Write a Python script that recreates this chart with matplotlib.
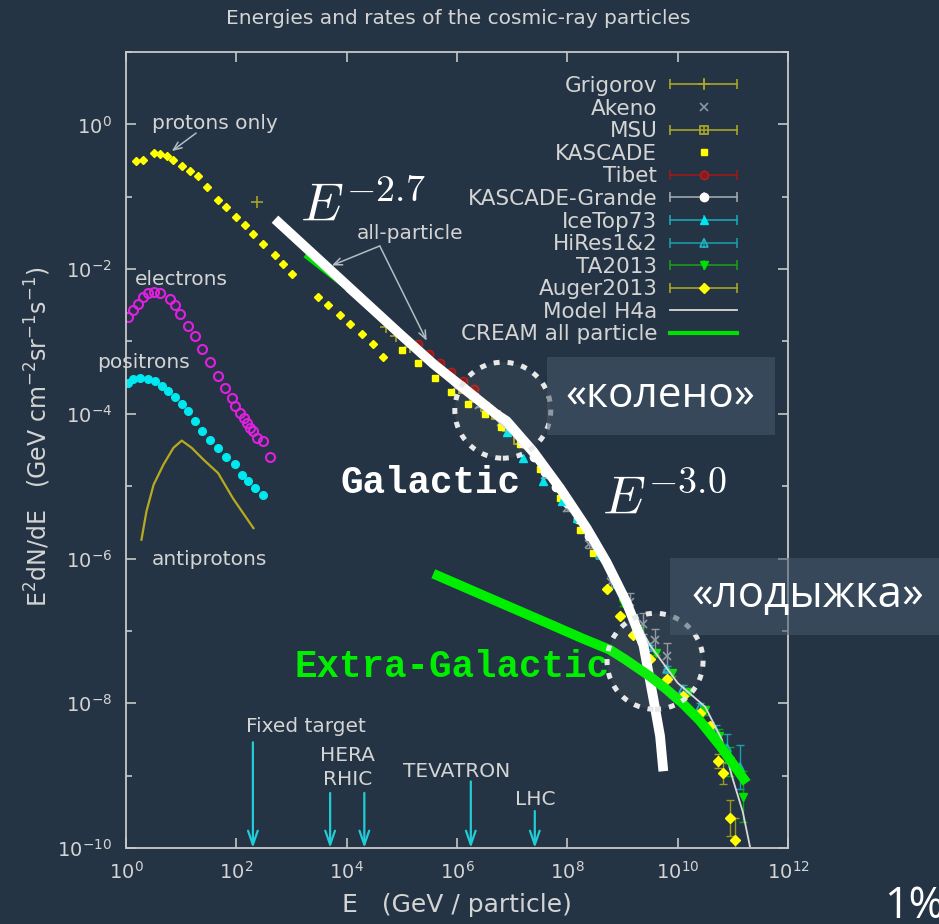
import matplotlib
matplotlib.use('Agg')
import matplotlib.pyplot as plt
import numpy as np
from matplotlib import patches, transforms
from matplotlib.legend_handler import HandlerBase
from matplotlib.lines import Line2D
from matplotlib.ticker import FixedLocator, NullLocator, FuncFormatter

BG = '#243444'
FG = '#d4d4d4'
OLIVE = '#a8a428'

# values: log10(E / GeV) and log10(E^2 dN/dE)
proton_logE = [0.19, 0.31, 0.50, 0.62, 0.74, 0.86, 1.01, 1.16, 1.31, 1.46, 1.67, 1.82, 2.00,
               2.16, 2.31, 2.49, 2.70, 2.85, 3.00, 3.48, 3.66, 3.88, 4.06, 4.27, 4.48, 4.66]
proton_logF = [-0.51, -0.49, -0.40, -0.41, -0.44, -0.49, -0.58, -0.65, -0.72, -0.86, -1.05, -1.14, -1.28,
               -1.39, -1.51, -1.65, -1.81, -1.93, -2.07, -2.39, -2.50, -2.64, -2.76, -2.90, -3.04, -3.22]

electron_logE = [0.04, 0.13, 0.22, 0.31, 0.40, 0.50, 0.62, 0.80, 0.89, 0.98, 1.13, 1.25, 1.37,
                 1.52, 1.67, 1.79, 1.92, 1.98, 2.07, 2.13, 2.19, 2.25, 2.31, 2.37, 2.49, 2.61]
electron_logF = [-2.66, -2.57, -2.48, -2.39, -2.33, -2.32, -2.33, -2.41, -2.50, -2.62, -2.78, -2.92, -3.11,
                 -3.29, -3.48, -3.64, -3.78, -3.89, -3.99, -4.06, -4.13, -4.19, -4.24, -4.33, -4.38, -4.59]

positron_logE = [0.04, 0.13, 0.25, 0.40, 0.52, 0.65, 0.77, 0.89, 1.01, 1.13, 1.25, 1.37, 1.52,
                 1.67, 1.82, 1.98, 2.10, 2.22, 2.34, 2.49]
positron_logF = [-3.58, -3.52, -3.50, -3.52, -3.55, -3.62, -3.69, -3.77, -3.87, -3.96, -4.10, -4.24, -4.36,
                 -4.47, -4.59, -4.70, -4.84, -4.93, -5.03, -5.12]

antiproton_logE = [0.28, 0.37, 0.50, 0.68, 0.86, 1.01, 1.19, 1.40, 1.67, 1.94, 2.31]
antiproton_logF = [-5.74, -5.35, -4.98, -4.70, -4.47, -4.37, -4.47, -4.63, -4.82, -5.17, -5.58]

grigorov_logE = [2.37, 4.72, 4.90, 5.15]
grigorov_logF = [-1.07, -2.80, -2.93, -3.08]

akeno_logE = [6.0, 6.4, 6.8, 7.2, 7.6, 8.0, 8.4, 8.8, 9.13, 9.37, 9.58, 9.8]
akeno_logF = [-3.62, -3.88, -4.12, -4.42, -4.85, -5.30, -5.80, -6.32, -6.60, -6.90, -7.12, -7.35]
akeno_err = [0.03, 0.03, 0.03, 0.03, 0.04, 0.05, 0.06, 0.08, 0.12, 0.15, 0.15, 0.18]

msu_logE = [6.1, 6.3, 6.5, 6.7, 6.9, 7.1]
msu_logF = [-3.66, -3.78, -3.90, -4.02, -4.18, -4.36]

kascade_logE = [5.0, 5.3, 5.6, 5.9, 6.2, 6.5, 6.8, 7.14, 7.50, 7.87, 8.23, 8.47]
kascade_logF = [-3.12, -3.30, -3.50, -3.70, -3.86, -4.00, -4.18, -4.42, -4.76, -5.16, -5.60, -5.92]

tibet_logE = [5.3, 5.5, 5.7, 5.9, 6.1, 6.3]
tibet_logF = [-3.04, -3.17, -3.30, -3.42, -3.54, -3.66]

grande_logE = [7.2, 7.4, 7.6, 7.8, 8.0, 8.2, 8.4]
grande_logF = [-4.41, -4.59, -4.80, -5.01, -5.23, -5.46, -5.69]

icetop_logE = [6.9, 7.2, 7.56, 7.9, 8.17, 8.53]
icetop_logF = [-4.25, -4.61, -4.93, -5.20, -5.44, -5.77]

hires_logE = [8.6, 8.9, 9.2, 9.5, 9.8, 10.1, 10.4, 10.7, 10.9, 11.13]
hires_logF = [-5.95, -6.35, -6.80, -7.22, -7.52, -7.80, -8.05, -8.40, -8.62, -8.88]
hires_err = [0.03, 0.03, 0.03, 0.03, 0.04, 0.05, 0.06, 0.10, 0.20, 0.30]

ta_logE = [9.0, 9.3, 9.6, 9.9, 10.2, 10.5, 10.75, 10.95, 11.18]
ta_logF = [-6.62, -7.00, -7.30, -7.58, -7.84, -8.10, -8.45, -8.80, -9.29]
ta_err = [0.03, 0.03, 0.03, 0.04, 0.05, 0.06, 0.10, 0.20, 0.35]

auger_logE = [8.71, 8.95, 9.19, 9.50, 9.80, 10.10, 10.40, 10.59, 10.74, 10.83, 10.95, 11.04]
auger_logF = [-6.42, -6.79, -7.06, -7.39, -7.67, -7.90, -8.13, -8.31, -8.80, -8.96, -9.59, -9.89]
auger_err = [0.02, 0.02, 0.02, 0.02, 0.03, 0.03, 0.04, 0.05, 0.10, 0.15, 0.25, 0.30]

h4a_logE = [4.0, 5.0, 6.0, 6.6, 7.0, 7.5, 8.0, 8.5, 9.0, 9.5, 10.0, 10.5, 10.8, 11.0, 11.18, 11.31]
h4a_logF = [-2.30, -2.98, -3.65, -4.00, -4.28, -4.72, -5.25, -5.85, -6.50, -7.20, -7.72, -8.05, -8.50, -9.05, -9.50, -9.98]

cream_logE = [3.27, 4.06]
cream_logF = [-1.83, -2.30]

galactic_logE = [2.70, 4.97, 5.57, 6.18, 6.72, 6.90, 7.38, 7.87, 8.35, 8.71, 9.07, 9.38, 9.56, 9.68, 9.74]
galactic_logF = [-1.31, -2.90, -3.31, -3.68, -4.01, -4.10, -4.52, -5.03, -5.58, -6.05, -6.60, -7.20, -7.94, -8.45, -8.94]

extragal_logE = [5.57, 6.78, 7.69, 8.29, 8.77, 9.06, 9.50, 9.80, 10.10, 10.40, 10.77, 11.25]
extragal_logF = [-6.21, -6.61, -6.91, -7.11, -7.26, -7.40, -7.63, -7.81, -8.01, -8.24, -8.59, -9.10]

acc_names = ['Fixed target', 'HERA', 'RHIC', 'TEVATRON', 'LHC']
acc_logE = [2.30, 3.70, 4.32, 6.25, 7.41]
acc_top = [-8.54, -9.24, -9.24, -9.08, -9.49]


def lg(v):
    return 10.0 ** np.asarray(v, dtype=float)


class BarHandler(HandlerBase):
    # gnuplot-like legend key: |---o---|
    def __init__(self, bar_color):
        super().__init__()
        self.bar_color = bar_color

    def create_artists(self, legend, orig, xdescent, ydescent, width, height, fontsize, trans):
        y = (height - ydescent) / 2
        x0, x1 = -xdescent, -xdescent + width
        xm = (x0 + x1) / 2
        bar = Line2D([x0, x1], [y, y], color=self.bar_color, lw=1.2)
        ticks = Line2D([x0, xm, x1], [y, y, y], ls='none', marker='|', ms=7, mew=1.2,
                       color=self.bar_color)
        mark = Line2D([xm], [y], ls='none', marker=orig.get_marker(), ms=orig.get_markersize(),
                      mfc=orig.get_markerfacecolor(), mec=orig.get_markeredgecolor(),
                      mew=orig.get_markeredgewidth())
        for a in (bar, ticks, mark):
            a.set_transform(trans)
        return [bar, ticks, mark]


plt.rcParams['font.family'] = ['DejaVu Sans']
plt.rcParams['mathtext.fontset'] = 'dejavusans'

fig = plt.figure(figsize=(9.39, 9.24), dpi=100, facecolor=BG)
ax = fig.add_axes([0.1342, 0.0823, 0.705, 0.8614])
ax.set_facecolor(BG)
ax.set_xscale('log')
ax.set_yscale('log')
ax.set_xlim(1, 1e12)
ax.set_ylim(1e-10, 10)

for s in ax.spines.values():
    s.set_color('#c8c8c8')
    s.set_linewidth(1.3)

ax.xaxis.set_major_locator(FixedLocator(lg(np.arange(0, 13, 2))))
ax.xaxis.set_minor_locator(NullLocator())
ax.yaxis.set_major_locator(FixedLocator(lg(np.arange(-10, 1, 2))))
ax.yaxis.set_minor_locator(FixedLocator(lg(np.arange(-9, 2, 2))))
fmt = FuncFormatter(lambda v, p: r'$10^{%d}$' % round(np.log10(v)))
ax.xaxis.set_major_formatter(fmt)
ax.yaxis.set_major_formatter(fmt)
ax.yaxis.set_minor_formatter(FuncFormatter(lambda v, p: ''))
ax.tick_params(which='both', direction='in', top=True, right=True, colors='#c8c8c8',
               labelcolor=FG, labelsize=14, width=1.2)
ax.tick_params(which='major', length=7)
ax.tick_params(which='minor', length=4)
ax.tick_params(axis='y', pad=10)
ax.tick_params(axis='x', pad=9)

# low-energy species
ax.plot(lg(proton_logE), lg(proton_logF), ls='none', marker='D', ms=4.5, color='#ffff00')
ax.plot(lg(electron_logE), lg(electron_logF), ls='none', marker='o', ms=6.5, mfc='none',
        mec='#e020e0', mew=1.5)
ax.plot(lg(positron_logE), lg(positron_logF), ls='none', marker='o', ms=5.5, color='#00e8f0')
ax.plot(lg(antiproton_logE), lg(antiproton_logF), color='#b8aa20', lw=1.6)

# all-particle measurements
h_grig, = ax.plot(lg(grigorov_logE), lg(grigorov_logF), ls='none', marker='+', ms=8, mew=1.2,
                  color=OLIVE, label='Grigorov')
ax.errorbar(lg(akeno_logE), lg(akeno_logF),
            yerr=[lg(akeno_logF) - lg(np.subtract(akeno_logF, akeno_err)),
                  lg(np.add(akeno_logF, akeno_err)) - lg(akeno_logF)],
            fmt='none', ecolor='#8d969e', elinewidth=1, capsize=3)
h_akeno, = ax.plot(lg(akeno_logE), lg(akeno_logF), ls='none', marker='x', ms=6, mew=1.2,
                   color='#8d969e', label='Akeno')
h_msu, = ax.plot(lg(msu_logE), lg(msu_logF), ls='none', marker='s', ms=6, mfc='none',
                 mec=OLIVE, mew=1.3, label='MSU')
h_kas, = ax.plot(lg(kascade_logE), lg(kascade_logF), ls='none', marker='s', ms=4.5,
                 color='#ffff00', label='KASCADE')
h_tib, = ax.plot(lg(tibet_logE), lg(tibet_logF), ls='none', marker='o', ms=6, mfc='#8b1a1a',
                 mec='#b02020', mew=1, label='Tibet')
h_gr, = ax.plot(lg(grande_logE), lg(grande_logF), ls='none', marker='o', ms=6, color='#ffffff',
                label='KASCADE-Grande')
h_ice, = ax.plot(lg(icetop_logE), lg(icetop_logF), ls='none', marker='^', ms=6, color='#00e5ee',
                 label='IceTop73')
for le, lf, err, col in [(hires_logE, hires_logF, hires_err, '#1aa0b0'),
                         (ta_logE, ta_logF, ta_err, '#10a010'),
                         (auger_logE, auger_logF, auger_err, '#9a9a20')]:
    ax.errorbar(lg(le), lg(lf),
                yerr=[lg(lf) - lg(np.subtract(lf, err)), lg(np.add(lf, err)) - lg(lf)],
                fmt='none', ecolor=col, elinewidth=1, capsize=3)
h_hr, = ax.plot(lg(hires_logE), lg(hires_logF), ls='none', marker='^', ms=6, mfc='none',
                mec='#20b0c0', mew=1.3, label='HiRes1&2')
h_ta, = ax.plot(lg(ta_logE), lg(ta_logF), ls='none', marker='v', ms=6, color='#00e000',
                label='TA2013')
h_aug, = ax.plot(lg(auger_logE), lg(auger_logF), ls='none', marker='D', ms=5, color='#ffff00',
                 label='Auger2013')
h_h4a, = ax.plot(lg(h4a_logE), lg(h4a_logF), color='#d8d8d8', lw=1.3, label='Model H4a')
h_cream, = ax.plot(lg(cream_logE), lg(cream_logF), color='#00e000', lw=3, label='CREAM all particle')

# galactic and extra-galactic components
ax.plot(lg(galactic_logE), lg(galactic_logF), color='white', lw=7, solid_capstyle='butt',
        solid_joinstyle='round')
ax.plot(lg(extragal_logE), lg(extragal_logF), color='#00ee00', lw=7, solid_capstyle='butt',
        solid_joinstyle='round')

handles = [h_grig, h_akeno, h_msu, h_kas, h_tib, h_gr, h_ice, h_hr, h_ta, h_aug, h_h4a, h_cream]
hmap = {h_grig: BarHandler(OLIVE), h_msu: BarHandler(OLIVE), h_tib: BarHandler('#9a1a1a'),
        h_gr: BarHandler('#a0a6ac'), h_ice: BarHandler('#1aa6b0'), h_hr: BarHandler('#1a9aa6'),
        h_ta: BarHandler('#1a9a1a'), h_aug: BarHandler(OLIVE)}
leg = ax.legend(handles=handles, handler_map=hmap, loc='upper right',
                bbox_to_anchor=(737 / 939, 1 - 76 / 924), bbox_transform=fig.transFigure,
                frameon=False, markerfirst=False, fontsize=15.5, labelcolor=FG,
                handlelength=3.1, handletextpad=0.6, labelspacing=0.12, borderpad=0,
                borderaxespad=0, numpoints=1)

# annotations
arrow_kw = dict(arrowstyle='->,head_length=0.6,head_width=0.25', color='#b4bcc4', lw=1.1,
                shrinkA=0, shrinkB=0)
txt_kw = dict(color=FG, fontsize=14.5)
ax.text(lg(0.47), lg(0.01), 'protons only', va='center', ha='left', **txt_kw)
ax.annotate('', xy=(lg(0.83), lg(-0.37)), xytext=(lg(1.27), lg(-0.12)), arrowprops=arrow_kw)
ax.text(lg(0.16), lg(-2.14), 'electrons', va='center', ha='left', **txt_kw)
ax.text(lg(-0.53), lg(-3.29), 'positrons', va='center', ha='left', clip_on=False, **txt_kw)
ax.text(lg(0.47), lg(-6.02), 'antiprotons', va='center', ha='left', **txt_kw)
ax.text(lg(4.18), lg(-1.51), 'all-particle', va='center', ha='left', **txt_kw)
ax.annotate('', xy=(lg(3.73), lg(-1.95)), xytext=(lg(4.60), lg(-1.68)), arrowprops=arrow_kw)
ax.annotate('', xy=(lg(5.45), lg(-2.99)), xytext=(lg(4.60), lg(-1.68)), arrowprops=arrow_kw)

ax.text(lg(3.15), lg(-1.35), r'$E^{-2.7}$', color='white', fontsize=39, math_fontfamily='cm',
        va='baseline', ha='left')
ax.text(lg(8.62), lg(-5.38), r'$E^{-3.0}$', color='white', fontsize=39, math_fontfamily='cm',
        va='baseline', ha='left')
ax.text(lg(3.88), lg(-5.10), 'Galactic', color='white', fontsize=27, family='Liberation Mono',
        weight='bold', va='baseline', ha='left')
ax.text(lg(3.06), lg(-7.64), 'Extra-Galactic', color='#00ee00', fontsize=27,
        family='Liberation Mono', weight='bold', va='baseline', ha='left')

acc_text = {'Fixed target': (3.26, -8.32), 'HERA': (4.01, -8.72), 'RHIC': (4.01, -9.06),
            'TEVATRON': (6.0, -8.94), 'LHC': (7.41, -9.33)}
for name, le, top in zip(acc_names, acc_logE, acc_top):
    ax.annotate('', xy=(lg(le), 1e-10), xytext=(lg(le), lg(top)),
                arrowprops=dict(arrowstyle='->,head_length=1.0,head_width=0.35', color='#22ccd6',
                                lw=1.6, shrinkA=0, shrinkB=0))
    tx, ty = acc_text[name]
    ax.text(lg(tx), lg(ty), name, ha='center', va='center', **txt_kw)

# dotted circles around the knee and the ankle
for cx, cy in [(6.83, -3.95), (9.59, -7.42)]:
    tr = fig.dpi_scale_trans + transforms.ScaledTranslation(lg(cx), lg(cy), ax.transData)
    ax.add_patch(patches.Circle((0, 0), 0.48, transform=tr, facecolor=(1, 1, 1, 0.05),
                                edgecolor='#e8e8e8', lw=3.6, ls=(0, (1.2, 1.6)), zorder=6))

ax.set_xlabel('E   (GeV / particle)', color=FG, fontsize=18)
ax.xaxis.set_label_coords(0.50, -0.057)
fig.text(38 / 939, 1 - 437 / 924, r'E$^2$dN/dE   (GeV cm$^{-2}$sr$^{-1}$s$^{-1}$)', rotation=90,
         color=FG, fontsize=17, ha='center', va='center')
fig.text(458 / 939, 1 - 18 / 924, 'Energies and rates of the cosmic-ray particles', color=FG,
         fontsize=14.5, ha='center', va='center')

# slide overlays
for x0, y0, w, h in [(546.7, 357.3, 228.3, 77.7), (670, 558.3, 269, 76.7)]:
    fig.patches.append(patches.Rectangle((x0 / 939, 1 - (y0 + h) / 924), w / 939, h / 924,
                                         transform=fig.transFigure, facecolor='#46596b',
                                         alpha=0.55, edgecolor='none', zorder=5))
fig.text(660 / 939, 1 - 396 / 924, '«колено»', color='white', fontsize=30.5, family='Open Sans',
         ha='center', va='center', zorder=7)
fig.text(808 / 939, 1 - 596 / 924, '«лодыжка»', color='white', fontsize=31.5, family='Open Sans',
         ha='center', va='center', zorder=7)
fig.text(884 / 939, 1 - 918 / 924, '1%', color='white', fontsize=31, family='Open Sans',
         ha='left', va='baseline')

fig.savefig('out.png', dpi=100, facecolor=BG)
